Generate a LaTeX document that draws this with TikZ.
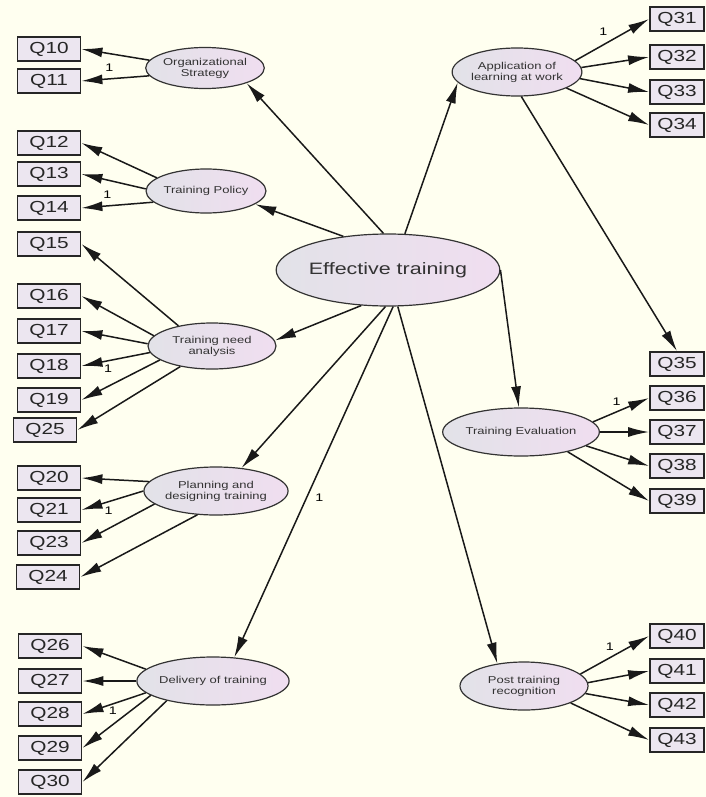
\documentclass[tikz,border=0pt]{standalone}
\usepackage{fontspec}
\setmainfont{Liberation Sans}[FakeStretch=1.3]
\usetikzlibrary{arrows.meta,positioning,shapes.geometric}
\definecolor{bgcream}{RGB}{255,255,240}
\definecolor{boxfill}{RGB}{236,230,240}
\definecolor{ellgrey}{RGB}{226,226,232}
\definecolor{ellpink}{RGB}{240,222,240}
\tikzset{
obs/.style={
  rectangle,
  draw=black!85,
  line width=1.8pt,
  fill=boxfill,
  minimum width=63pt,
  minimum height=24pt,
  inner sep=0pt,
  text=black!85,
  font=\fontsize{16}{16}\selectfont
  },
lat/.style={
  ellipse,
  draw=black!80,
  line width=1.2pt,
  left color=ellgrey,
  right color=ellpink,
  minimum width=128pt,
  minimum height=48pt,
  inner sep=0pt,
  align=center,
  text=black!80,
  font=\fontsize{10}{11}\selectfont
  },
link/.style={->, line width=1.5pt, draw=black!90},
one/.style={font=\fontsize{11}{11}\selectfont, inner sep=1pt}
}
\tikzset{
  robs/.style={obs, minimum width=54pt}
}

\begin{document}
\begin{tikzpicture}[x=1pt,y=-1pt,>={Latex[length=21pt,width=10pt]}]

\fill[bgcream] (0,0) rectangle (706,797);
\useasboundingbox (0,0) rectangle (706,797);

% latent variables
\node[lat, minimum width=206pt, minimum height=72pt,
  font=\fontsize{16.5}{17}\selectfont] (et) at (388,270) {Effective training};

\node[lat, minimum width=114pt, minimum height=41pt] (os) at (205,68) {Organizational\\Strategy};
\node[lat, minimum width=116pt, minimum height=44pt] (tp) at (206,191) {Training Policy};
\node[lat, minimum height=46pt] (tna) at (212,346) {Training need\\analysis};
\node[lat] (pd) at (216,491) {Planning and\\designing training};
\node[lat] (dt) at (213,681) {Delivery of training};

\node[lat] (al) at (517,72) {Application of\\learning at work};
\node[lat] (te) at (521,432) {Training Evaluation};
\node[lat] (pt) at (524,686) {Post training\\recognition};

% observed variables, left
\node[obs] (q10) at (49,49) {Q10};
\node[obs] (q11) at (49,81) {Q11};

\node[obs] (q12) at (49,143) {Q12};
\node[obs] (q13) at (49,174) {Q13};
\node[obs] (q14) at (49,208) {Q14};

\node[obs] (q15) at (49,244) {Q15};
\node[obs] (q16) at (49,296) {Q16};
\node[obs] (q17) at (49,331) {Q17};
\node[obs] (q18) at (49,366) {Q18};
\node[obs] (q19) at (49,400) {Q19};
\node[obs] (q25) at (45,430) {Q25};

\node[obs] (q20) at (49,478) {Q20};
\node[obs] (q21) at (49,510) {Q21};
\node[obs] (q23) at (49,543) {Q23};
\node[obs] (q24) at (48,577) {Q24};

\node[obs] (q26) at (50,646) {Q26};
\node[obs] (q27) at (50,681) {Q27};
\node[obs] (q28) at (50,714) {Q28};
\node[obs] (q29) at (50,748) {Q29};
\node[obs] (q30) at (50,782) {Q30};

% observed variables, right
\node[robs] (q31) at (677,19) {Q31};
\node[robs] (q32) at (677,57) {Q32};
\node[robs] (q33) at (677,92) {Q33};
\node[robs] (q34) at (677,125) {Q34};

\node[robs] (q35) at (677,364) {Q35};
\node[robs] (q36) at (677,398) {Q36};
\node[robs] (q37) at (677,432) {Q37};
\node[robs] (q38) at (677,466) {Q38};
\node[robs] (q39) at (677,501) {Q39};

\node[robs] (q40) at (677,636) {Q40};
\node[robs] (q41) at (677,671) {Q41};
\node[robs] (q42) at (677,705) {Q42};
\node[robs] (q43) at (677,740) {Q43};

\begin{scope}
% structural paths
\draw[link]
  (et.97) -- (os.-20);
\draw[link]
  (et.143) -- (tp.-15);
\draw[link]
  (et.233) -- (tna.5);
\draw[link]
  (et.266) -- (pd.42);
\draw[link]
  (et.278) -- (dt.48) node[one, pos=0.545, right=7pt](w0){1};
\draw[link]
  (et.285) -- (pt.140);
\draw[link]
  (et.east) -- (te.95);
\draw[link]
  (et.65) -- (al.190);
\draw[link]
  (al.280) -- (q35.north);

% measurement paths
\draw[link]
  (os.172) -- (q10.east);
\draw[link]
  (os.188) -- (q11.east) node[one, pos=0.59, above=6pt](w11){1};

\draw[link]
  (tp.165) -- (q12.east);
\draw[link]
  (tp.178) -- (q13.east);
\draw[link]
  (tp.192) -- (q14.east) node[one, pos=0.64, above=6pt](w14){1};

\draw[link]
  (tna.149) -- (q15.east);
\draw[link]
  (tna.170) -- (q16.east);
\draw[link]
  (tna.178) -- (q17.east);
\draw[link]
  (tna.186) -- (q18.east) node[one, pos=0.61, below=2pt](w18){1};
\draw[link]
  (tna.195) -- (q19.east);
\draw[link]
  (tna.213) -- (q25.east);

\draw[link]
  (pd.172) -- (q20.east);
\draw[link]
  (pd.180) -- (q21.east) node[one, pos=0.56, below=4pt](w21){1};
\draw[link]
  (pd.192) -- (q23.east);
\draw[link]
  (pd.232) -- (q24.east);

\draw[link]
  (dt.170) -- (q26.east);
\draw[link]
  (dt.180) -- (q27.east);
\draw[link]
  (dt.190) -- (q28.east) node[one, pos=0.52, below=1pt](w28){1};
\draw[link]
  (dt.193) -- (q29.east);
\draw[link]
  (dt.203) -- (q30.east);

\draw[link]
  (al.11) -- (q31.west) node[one, pos=0.38, above=8pt](w31){1};
\draw[link]
  (al.4) -- (q32.west);
\draw[link]
  (al.354) -- (q33.west);
\draw[link]
  (al.342) -- (q34.west);

\draw[link]
  (te.8) -- (q36.west) node[one, pos=0.42, above=5pt](w36){1};
\draw[link]
  (te.0) -- (q37.west);
\draw[link]
  (te.348) -- (q38.west);
\draw[link]
  (te.337) -- (q39.west);

\draw[link]
  (pt.12) -- (q40.west) node[one, pos=0.43, above=5pt](w40){1};
\draw[link]
  (pt.3) -- (q41.west);
\draw[link]
  (pt.353) -- (q42.west);
\draw[link]
  (pt.340) -- (q43.west);
\end{scope}

\end{tikzpicture}
\end{document}
